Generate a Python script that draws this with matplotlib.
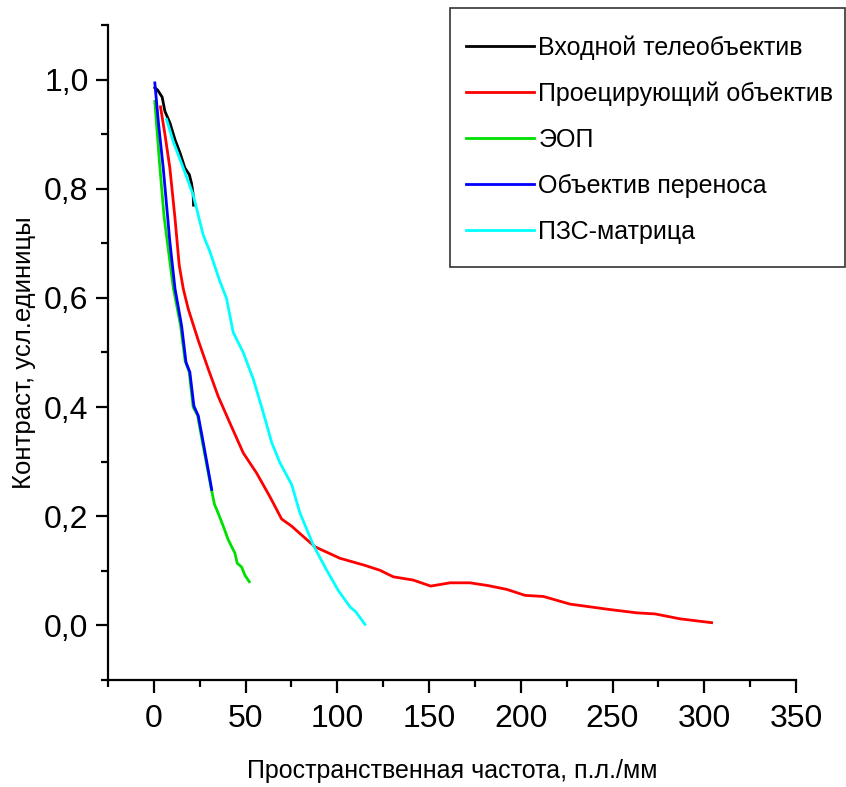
import numpy as np
import matplotlib
matplotlib.use('Agg')
import matplotlib.pyplot as plt
from matplotlib.patches import Rectangle
from matplotlib.ticker import MultipleLocator, FuncFormatter

plt.rcParams['font.family'] = ['Liberation Sans', 'DejaVu Sans']

# curves: spatial frequency (lp/mm) vs contrast
tele_x = [0.5, 2.0, 4.5, 6.0, 8.7, 11.5, 14.2, 16.9, 19.3, 20.5, 21.4, 21.6]
tele_y = [0.985, 0.981, 0.968, 0.942, 0.921, 0.890, 0.866, 0.838, 0.826, 0.810, 0.790, 0.770]

proj_x = [3.6, 6.0, 8.7, 11.5, 13.8, 16.0, 18.7, 24.2, 29.6, 35.0, 41.4, 48.7, 56.0, 63.2,
          69.6, 75.0, 87.8, 101.4, 115.0, 123.2, 130.5, 141.4, 150.9, 161.4, 172.3, 182.0,
          192.3, 202.3, 212.3, 226.8, 248.6, 263.2, 273.2, 286.8, 304.0]
proj_y = [0.950, 0.900, 0.838, 0.746, 0.660, 0.617, 0.580, 0.522, 0.470, 0.420, 0.371, 0.316,
          0.279, 0.236, 0.195, 0.182, 0.144, 0.123, 0.110, 0.101, 0.089, 0.083, 0.072, 0.078,
          0.078, 0.073, 0.066, 0.055, 0.053, 0.039, 0.029, 0.023, 0.021, 0.012, 0.005]

eop_x = [0.5, 3.0, 5.5, 8.0, 10.5, 14.5, 17.0, 19.2, 21.4, 23.8, 26.5, 29.3, 31.3, 33.0,
         35.0, 38.0, 40.5, 44.2, 45.4, 47.8, 49.6, 52.0]
eop_y = [0.960, 0.850, 0.750, 0.685, 0.620, 0.550, 0.485, 0.465, 0.400, 0.385, 0.335, 0.285,
         0.250, 0.222, 0.206, 0.180, 0.157, 0.132, 0.114, 0.107, 0.092, 0.080]

relay_x = [0.5, 2.5, 5.1, 8.7, 11.5, 15.1, 17.5, 19.6, 21.8, 24.2, 26.9, 29.6, 31.5]
relay_y = [0.994, 0.920, 0.838, 0.703, 0.617, 0.549, 0.482, 0.464, 0.402, 0.384, 0.335, 0.285, 0.249]

ccd_x = [6.9, 10.5, 16.0, 21.4, 26.9, 30.5, 36.0, 39.6, 43.2, 48.7, 54.2, 59.6, 64.2, 68.7,
         75.1, 79.6, 86.9, 94.2, 100.5, 106.9, 110.0, 115.0]
ccd_y = [0.927, 0.887, 0.838, 0.789, 0.715, 0.685, 0.630, 0.599, 0.537, 0.500, 0.451, 0.390,
         0.335, 0.298, 0.258, 0.206, 0.147, 0.101, 0.064, 0.034, 0.025, 0.002]

labels = ['Входной телеобъектив', 'Проецирующий объектив', 'ЭОП',
          'Объектив переноса', 'ПЗС-матрица']
colors = ['black', 'red', '#00e000', 'blue', 'cyan']

W, H = 846, 787
fig = plt.figure(figsize=(W / 100, H / 100), dpi=100)
ax = fig.add_axes([0.1277, 0.136, 0.8132, 0.8322])

series = [(tele_x, tele_y), (proj_x, proj_y), (eop_x, eop_y), (relay_x, relay_y), (ccd_x, ccd_y)]
for (x, y), c, lab in zip(series, colors, labels):
    ax.plot(x, y, color=c, lw=2, label=lab)

ax.set_xlim(-25, 350)
ax.set_ylim(-0.1, 1.1)
ax.spines['top'].set_visible(False)
ax.spines['right'].set_visible(False)
ax.spines['left'].set_linewidth(1.6)
ax.spines['bottom'].set_linewidth(1.6)

ax.xaxis.set_major_locator(MultipleLocator(50))
ax.xaxis.set_minor_locator(MultipleLocator(25))
ax.yaxis.set_major_locator(MultipleLocator(0.2))
ax.yaxis.set_minor_locator(MultipleLocator(0.1))
ax.yaxis.set_major_formatter(FuncFormatter(lambda v, p: f'{v:.1f}'.replace('.', ',').replace('-0,0', '0,0')))
ax.tick_params(which='major', length=9, width=1.6, labelsize=23)
ax.tick_params(which='minor', length=5, width=1.6)
ax.tick_params(axis='x', which='major', pad=8)
ax.tick_params(axis='y', which='major', pad=5)

ax.set_xlabel('Пространственная частота, п.л./мм', fontsize=18, labelpad=18)
ax.set_ylabel('Контраст, усл.единицы', fontsize=18.5, labelpad=6)

# legend box drawn separately so its padding matches the original
fig.patches.append(Rectangle((450 / W, 1 - 267 / H), 395 / W, 259 / H,
                             transform=fig.transFigure, facecolor='white',
                             edgecolor='#333333', linewidth=1.2, zorder=5))
leg = fig.legend(loc='upper left', bbox_to_anchor=(466 / W, 1 - 35 / H), fontsize=18,
                 handlelength=2.7, handletextpad=0.2, labelspacing=0.88,
                 borderpad=0, borderaxespad=0, frameon=False)
leg.set_zorder(6)

fig.savefig('out.png', dpi=100)
